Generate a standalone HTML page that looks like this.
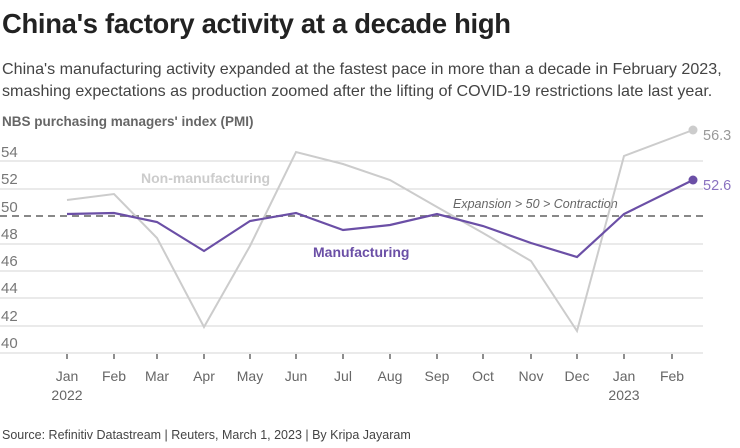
<!DOCTYPE html>
<html><head><meta charset="utf-8"><style>
body{margin:0;width:740px;height:448px;background:#fff;font-family:"Liberation Sans",sans-serif;overflow:hidden;position:relative}
.t{position:absolute;left:2px;top:8px;font-size:27.4px;font-weight:bold;color:#222;letter-spacing:-0.3px}
.s{position:absolute;left:2px;top:58px;font-size:16.1px;line-height:22px;color:#444;width:740px;white-space:nowrap}
.f{position:absolute;left:2px;top:428px;font-size:12.5px;color:#444}
</style></head><body>
<div class="t">China's factory activity at a decade high</div>
<div class="s">China's manufacturing activity expanded at the fastest pace in more than a decade in February 2023,<br>smashing expectations as production zoomed after the lifting of COVID-19 restrictions late last year.</div>
<svg width="740" height="448" style="position:absolute;left:0;top:0" font-family="Liberation Sans, sans-serif">
<text x="2" y="126" font-size="13.5" font-weight="bold" fill="#666">NBS purchasing managers' index (PMI)</text>
<g stroke="#ddd" stroke-width="1.3">
<line x1="0" y1="161" x2="703" y2="161"/><line x1="0" y1="189" x2="703" y2="189"/>
<line x1="0" y1="244" x2="703" y2="244"/><line x1="0" y1="271" x2="703" y2="271"/>
<line x1="0" y1="298" x2="703" y2="298"/><line x1="0" y1="326" x2="703" y2="326"/>
<line x1="0" y1="353" x2="703" y2="353"/>
</g>
<g font-size="15" fill="#777">
<text x="1" y="157">54</text><text x="1" y="184">52</text><text x="1" y="212">50</text><text x="1" y="239">48</text><text x="1" y="266">46</text><text x="1" y="293">44</text><text x="1" y="321">42</text><text x="1" y="348">40</text>
</g>
<g stroke="#444" stroke-width="1.2">
<line x1="67" y1="354" x2="67" y2="359"/><line x1="114" y1="354" x2="114" y2="359"/><line x1="157" y1="354" x2="157" y2="359"/><line x1="204" y1="354" x2="204" y2="359"/><line x1="250" y1="354" x2="250" y2="359"/><line x1="296" y1="354" x2="296" y2="359"/><line x1="343" y1="354" x2="343" y2="359"/><line x1="390" y1="354" x2="390" y2="359"/><line x1="437" y1="354" x2="437" y2="359"/><line x1="483" y1="354" x2="483" y2="359"/><line x1="531" y1="354" x2="531" y2="359"/><line x1="577" y1="354" x2="577" y2="359"/><line x1="624" y1="354" x2="624" y2="359"/><line x1="672" y1="354" x2="672" y2="359"/>
</g>
<g font-size="14" fill="#666" text-anchor="middle">
<text x="67" y="381">Jan</text><text x="67" y="400">2022</text><text x="114" y="381">Feb</text><text x="157" y="381">Mar</text><text x="204" y="381">Apr</text><text x="250" y="381">May</text><text x="296" y="381">Jun</text><text x="343" y="381">Jul</text><text x="390" y="381">Aug</text><text x="437" y="381">Sep</text><text x="483" y="381">Oct</text><text x="531" y="381">Nov</text><text x="577" y="381">Dec</text><text x="624" y="381">Jan</text><text x="624" y="400">2023</text><text x="672" y="381">Feb</text>
</g>
<line x1="0" y1="216" x2="703" y2="216" stroke="#888" stroke-width="2" stroke-dasharray="7,5"/>
<text x="453" y="208" font-size="12.5" font-style="italic" fill="#666">Expansion &gt; 50 &gt; Contraction</text>
<polyline fill="none" stroke="#ccc" stroke-width="2" points="67,200 114,194 157,238 204,327 250,246 296,152 343,164 390,180 437,207 483,233 531,261 577,331 624,156 693,130"/>
<circle cx="693" cy="130" r="4.5" fill="#ccc"/>
<polyline fill="none" stroke="#6b4fa6" stroke-width="2.2" points="67,214 114,213 157,222 204,251 250,221 296,213 343,230 390,225 437,214 483,226 531,243 577,257 624,214 693,180"/>
<circle cx="693" cy="180" r="4.5" fill="#6b4fa6"/>
<text x="703" y="140" font-size="14.5" fill="#999">56.3</text>
<text x="703" y="190" font-size="14.5" fill="#8a72c0">52.6</text>
<text x="141" y="183" font-size="14" font-weight="bold" fill="#ccc">Non-manufacturing</text>
<text x="313" y="257" font-size="14" font-weight="bold" fill="#6b4fa6">Manufacturing</text>
</svg>
<div class="f">Source: Refinitiv Datastream | Reuters, March 1, 2023 | By Kripa Jayaram</div>
</body></html>
